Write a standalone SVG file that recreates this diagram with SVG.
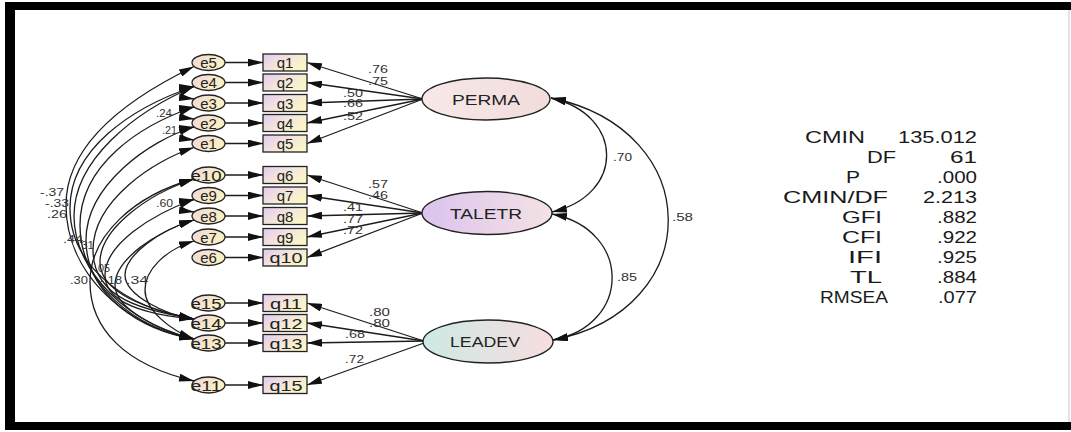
<svg xmlns="http://www.w3.org/2000/svg" width="1071" height="432" viewBox="0 0 1071 432">
  <defs>
    <linearGradient id="gBox" x1="0" y1="0" x2="1" y2="0.6">
      <stop offset="0" stop-color="#e2cbef"/>
      <stop offset="0.55" stop-color="#f3e6dc"/>
      <stop offset="1" stop-color="#fcf5c6"/>
    </linearGradient>
    <linearGradient id="gErr" x1="0" y1="0" x2="1" y2="0.4">
      <stop offset="0" stop-color="#eed8dc"/>
      <stop offset="1" stop-color="#faf1c2"/>
    </linearGradient>
    <linearGradient id="gPerma" x1="0" y1="0" x2="1" y2="0">
      <stop offset="0" stop-color="#f7e8e8"/>
      <stop offset="1" stop-color="#f2dcdc"/>
    </linearGradient>
    <linearGradient id="gTaletr" x1="0" y1="0" x2="1" y2="0">
      <stop offset="0" stop-color="#dbc3ee"/>
      <stop offset="1" stop-color="#f4e2e4"/>
    </linearGradient>
    <linearGradient id="gLeadev" x1="0" y1="0" x2="1" y2="0">
      <stop offset="0" stop-color="#cde9e4"/>
      <stop offset="1" stop-color="#f7dde0"/>
    </linearGradient>
    <marker id="ah" viewBox="0 0 16 8" refX="16" refY="4" markerWidth="15" markerHeight="8" markerUnits="userSpaceOnUse" orient="auto-start-reverse" preserveAspectRatio="none">
      <path d="M0,0 L16,4 L0,8 z" fill="#111"/>
    </marker>
    <style>
      .ln { fill: none; stroke: #1c1c1c; stroke-width: 1.3; }
      .one { marker-end: url(#ah); }
      .two { marker-start: url(#ah); marker-end: url(#ah); }
      .box { fill: url(#gBox); stroke: #222; stroke-width: 1.3; }
      .err { fill: url(#gErr); stroke: #222; stroke-width: 1.3; }
      .lat { stroke: #222; stroke-width: 1.4; }
      .t { font-family: "Liberation Sans", Arial, sans-serif; fill: #222; }
      .nm { font-size: 15px; text-anchor: middle; }
      .lv { font-size: 15px; text-anchor: middle; }
      .lb { font-size: 11.5px; fill: #333; }
      .st { font-size: 16px; fill: #1a1a1a; }
      .sv { font-size: 16px; fill: #1a1a1a; text-anchor: end; }
    </style>
  </defs>

  <rect width="1071" height="432" fill="#fff"/>
  <!-- picture frame -->
  <rect x="5" y="2" width="1066" height="8" fill="#000"/>
  <rect x="5" y="2" width="10" height="428" fill="#000"/>
  <rect x="5" y="422" width="1066" height="8" fill="#000"/>
  <line x1="1069" y1="10" x2="1069" y2="422" stroke="#c8c8c8" stroke-width="1"/>

  <!-- connectors -->
  <g id="connectors">
    <!-- error terms to indicators -->
    <path class="ln one" d="M225,62.5 L263,62.5"/>
    <path class="ln one" d="M225,82.5 L263,82.5"/>
    <path class="ln one" d="M225,103 L263,103"/>
    <path class="ln one" d="M225,123 L263,123"/>
    <path class="ln one" d="M225,143.5 L263,143.5"/>
    <path class="ln one" d="M225,175 L263,175"/>
    <path class="ln one" d="M225,195.5 L263,195.5"/>
    <path class="ln one" d="M225,216 L263,216"/>
    <path class="ln one" d="M225,237 L263,237"/>
    <path class="ln one" d="M225,257.5 L263,257.5"/>
    <path class="ln one" d="M225,303 L263,303"/>
    <path class="ln one" d="M225,323 L263,323"/>
    <path class="ln one" d="M225,343 L263,343"/>
    <path class="ln one" d="M225,385 L263,385"/>

    <!-- factor loadings -->
    <path class="ln one" d="M423,99 L307,62.5"/>
    <path class="ln one" d="M423,99 L307,82.5"/>
    <path class="ln one" d="M423,99 L307,103"/>
    <path class="ln one" d="M423,99 L307,123"/>
    <path class="ln one" d="M423,99 L307,143.5"/>
    <path class="ln one" d="M423,213 L307,175"/>
    <path class="ln one" d="M423,213 L307,195.5"/>
    <path class="ln one" d="M423,213 L307,216"/>
    <path class="ln one" d="M423,213 L307,237"/>
    <path class="ln one" d="M423,213 L307,257.5"/>
    <path class="ln one" d="M424,341 L307,303"/>
    <path class="ln one" d="M424,341 L307,323"/>
    <path class="ln one" d="M424,341 L307,343"/>
    <path class="ln one" d="M424,343 L307,385"/>

    <!-- factor covariances -->
    <path class="ln two" d="M551,98 C625,115 625,195 552,212"/>
    <path class="ln two" d="M551,98 C707,130 707,310 553,340"/>
    <path class="ln two" d="M552,214 C632,230 632,325 553,340"/>

    <!-- error covariances -->
    <path class="ln two" d="M194,66.5 C135,95 66,140 66,205 S120,325 194,339"/>
    <path class="ln two" d="M194,86.5 C130,108 70,150 70,208 S125,308 194,319"/>
    <path class="ln two" d="M194,86.5 C134,112 74,160 74,216 S130,325 194,339"/>
    <path class="ln two" d="M194,107 C140,125 80,165 80,225 S135,328 194,339"/>
    <path class="ln two" d="M194,127 C150,140 86,185 86,240 S140,330 194,339"/>
    <path class="ln two" d="M194,147.5 C155,160 93,200 93,250 S145,310 194,319"/>
    <path class="ln two" d="M194,179 C135,195 90,235 90,282 S125,365 194,381"/>
    <path class="ln two" d="M194,179 C145,195 100,230 100,262 S150,310 194,319"/>
    <path class="ln two" d="M194,199.5 C150,215 105,245 105,275 S150,315 194,319"/>
    <path class="ln two" d="M194,220 C155,232 115,260 115,285 S160,330 194,339"/>
    <path class="ln two" d="M194,220 C160,230 125,255 125,275 S165,315 194,319"/>
    <path class="ln two" d="M194,241 C165,250 145,270 145,290 S170,330 194,339"/>
    <path class="ln two" d="M194,86.5 C178,88 178,97 194,99"/>
    <path class="ln two" d="M194,107 C178,109 178,117 194,119"/>
    <path class="ln two" d="M194,127 C178,129 178,138 194,140"/>
    <path class="ln two" d="M194,199.5 C178,202 178,210 194,212"/>
  </g>

  <!-- path coefficients and covariance estimates -->
  <g id="estimates" class="t lb">
    <text x="368" y="73" textLength="20" lengthAdjust="spacingAndGlyphs">.76</text>
    <text x="368" y="85" textLength="20" lengthAdjust="spacingAndGlyphs">.75</text>
    <text x="343" y="96.5" textLength="20" lengthAdjust="spacingAndGlyphs">.50</text>
    <text x="343" y="107" textLength="20" lengthAdjust="spacingAndGlyphs">.66</text>
    <text x="343" y="120" textLength="20" lengthAdjust="spacingAndGlyphs">.52</text>
    <text x="368" y="188" textLength="20" lengthAdjust="spacingAndGlyphs">.57</text>
    <text x="368" y="199" textLength="20" lengthAdjust="spacingAndGlyphs">.46</text>
    <text x="343" y="210.5" textLength="20" lengthAdjust="spacingAndGlyphs">.41</text>
    <text x="343" y="223" textLength="20" lengthAdjust="spacingAndGlyphs">.77</text>
    <text x="343" y="234" textLength="20" lengthAdjust="spacingAndGlyphs">.72</text>
    <text x="369" y="315.5" textLength="21" lengthAdjust="spacingAndGlyphs">.80</text>
    <text x="369" y="326.5" textLength="21" lengthAdjust="spacingAndGlyphs">.80</text>
    <text x="345" y="338" textLength="20" lengthAdjust="spacingAndGlyphs">.68</text>
    <text x="345" y="363" textLength="19" lengthAdjust="spacingAndGlyphs">.72</text>
    <text x="613" y="161" textLength="19" lengthAdjust="spacingAndGlyphs">.70</text>
    <text x="672" y="221" textLength="21" lengthAdjust="spacingAndGlyphs">.58</text>
    <text x="617" y="281" textLength="20" lengthAdjust="spacingAndGlyphs">.85</text>
    <text x="40" y="196" textLength="24" lengthAdjust="spacingAndGlyphs">-.37</text>
    <text x="45" y="207" textLength="24" lengthAdjust="spacingAndGlyphs">-.33</text>
    <text x="47" y="218" textLength="20" lengthAdjust="spacingAndGlyphs">.26</text>
    <text x="63" y="243" textLength="20" lengthAdjust="spacingAndGlyphs">.44</text>
    <text x="78" y="249" textLength="16" lengthAdjust="spacingAndGlyphs">.31</text>
    <text x="95" y="272" textLength="15" lengthAdjust="spacingAndGlyphs">.05</text>
    <text x="70" y="284" textLength="18" lengthAdjust="spacingAndGlyphs">.30</text>
    <text x="100" y="284" textLength="22" lengthAdjust="spacingAndGlyphs">-.18</text>
    <text x="126" y="284" textLength="22" lengthAdjust="spacingAndGlyphs">.34</text>
    <text x="156" y="117" textLength="16" lengthAdjust="spacingAndGlyphs">.24</text>
    <text x="162" y="134" textLength="15" lengthAdjust="spacingAndGlyphs">.21</text>
    <text x="156" y="207" textLength="17" lengthAdjust="spacingAndGlyphs">.60</text>
  </g>

  <!-- latent variables -->
  <g id="PERMA">
    <ellipse class="lat" cx="486" cy="99" rx="64" ry="21" fill="url(#gPerma)"/>
    <text class="t lv" x="486" y="105" textLength="68" lengthAdjust="spacingAndGlyphs">PERMA</text>
  </g>
  <g id="TALETR">
    <ellipse class="lat" cx="487" cy="213" rx="65" ry="21.5" fill="url(#gTaletr)"/>
    <text class="t lv" x="486" y="219" textLength="72" lengthAdjust="spacingAndGlyphs">TALETR</text>
  </g>
  <g id="LEADEV">
    <ellipse class="lat" cx="488" cy="341.5" rx="65" ry="21.5" fill="url(#gLeadev)"/>
    <text class="t lv" x="485" y="347" textLength="70" lengthAdjust="spacingAndGlyphs">LEADEV</text>
  </g>

  <!-- indicators -->
  <g id="q1"><rect class="box" x="263" y="54" width="44" height="17"/><text class="t nm" x="285" y="68">q1</text></g>
  <g id="q2"><rect class="box" x="263" y="74" width="44" height="17"/><text class="t nm" x="285" y="88">q2</text></g>
  <g id="q3"><rect class="box" x="263" y="94.5" width="44" height="17"/><text class="t nm" x="285" y="108.5">q3</text></g>
  <g id="q4"><rect class="box" x="263" y="114.5" width="44" height="17"/><text class="t nm" x="285" y="128.5">q4</text></g>
  <g id="q5"><rect class="box" x="263" y="135" width="44" height="17"/><text class="t nm" x="285" y="149">q5</text></g>
  <g id="q6"><rect class="box" x="263" y="166.5" width="44" height="17"/><text class="t nm" x="285" y="180.5">q6</text></g>
  <g id="q7"><rect class="box" x="263" y="187" width="44" height="17"/><text class="t nm" x="285" y="201">q7</text></g>
  <g id="q8"><rect class="box" x="263" y="207.5" width="44" height="17"/><text class="t nm" x="285" y="221.5">q8</text></g>
  <g id="q9"><rect class="box" x="263" y="228.5" width="44" height="17"/><text class="t nm" x="285" y="242.5">q9</text></g>
  <g id="q10"><rect class="box" x="263" y="249" width="44" height="17"/><text class="t nm" x="286" y="263" textLength="33" lengthAdjust="spacingAndGlyphs">q10</text></g>
  <g id="q11"><rect class="box" x="263" y="294.5" width="44" height="17"/><text class="t nm" x="286" y="308.5" textLength="32" lengthAdjust="spacingAndGlyphs">q11</text></g>
  <g id="q12"><rect class="box" x="263" y="314.5" width="44" height="17"/><text class="t nm" x="286" y="328.5" textLength="33" lengthAdjust="spacingAndGlyphs">q12</text></g>
  <g id="q13"><rect class="box" x="263" y="334.5" width="44" height="17"/><text class="t nm" x="286" y="348.5" textLength="33" lengthAdjust="spacingAndGlyphs">q13</text></g>
  <g id="q15"><rect class="box" x="263" y="376.5" width="44" height="17"/><text class="t nm" x="286" y="390.5" textLength="33" lengthAdjust="spacingAndGlyphs">q15</text></g>

  <!-- error terms -->
  <g id="e5"><ellipse class="err" cx="208.5" cy="62.5" rx="16.5" ry="8"/><text class="t nm" x="208.5" y="68">e5</text></g>
  <g id="e4"><ellipse class="err" cx="208.5" cy="82.5" rx="16.5" ry="8"/><text class="t nm" x="208.5" y="88">e4</text></g>
  <g id="e3"><ellipse class="err" cx="208.5" cy="103" rx="16.5" ry="8"/><text class="t nm" x="208.5" y="108.5">e3</text></g>
  <g id="e2"><ellipse class="err" cx="208.5" cy="123" rx="16.5" ry="8"/><text class="t nm" x="208.5" y="128.5">e2</text></g>
  <g id="e1"><ellipse class="err" cx="208.5" cy="143.5" rx="16.5" ry="8"/><text class="t nm" x="208.5" y="149">e1</text></g>
  <g id="e10"><ellipse class="err" cx="208.5" cy="175" rx="16.5" ry="8"/><text class="t nm" x="206" y="180.5" textLength="31" lengthAdjust="spacingAndGlyphs">e10</text></g>
  <g id="e9"><ellipse class="err" cx="208.5" cy="195.5" rx="16.5" ry="8"/><text class="t nm" x="208.5" y="201">e9</text></g>
  <g id="e8"><ellipse class="err" cx="208.5" cy="216" rx="16.5" ry="8"/><text class="t nm" x="208.5" y="221.5">e8</text></g>
  <g id="e7"><ellipse class="err" cx="208.5" cy="237" rx="16.5" ry="8"/><text class="t nm" x="208.5" y="242.5">e7</text></g>
  <g id="e6"><ellipse class="err" cx="208.5" cy="257.5" rx="16.5" ry="8"/><text class="t nm" x="208.5" y="263">e6</text></g>
  <g id="e15"><ellipse class="err" cx="208.5" cy="303" rx="16.5" ry="8"/><text class="t nm" x="206" y="308.5" textLength="31" lengthAdjust="spacingAndGlyphs">e15</text></g>
  <g id="e14"><ellipse class="err" cx="208.5" cy="323" rx="16.5" ry="8"/><text class="t nm" x="206" y="328.5" textLength="31" lengthAdjust="spacingAndGlyphs">e14</text></g>
  <g id="e13"><ellipse class="err" cx="208.5" cy="343" rx="16.5" ry="8"/><text class="t nm" x="206" y="348.5" textLength="31" lengthAdjust="spacingAndGlyphs">e13</text></g>
  <g id="e11"><ellipse class="err" cx="208.5" cy="385" rx="16.5" ry="8"/><text class="t nm" x="206" y="390.5" textLength="31" lengthAdjust="spacingAndGlyphs">e11</text></g>

  <!-- model fit summary -->
  <g id="fit" class="t">
    <text class="st" x="805" y="143" textLength="60" lengthAdjust="spacingAndGlyphs">CMIN</text>
    <text class="sv" x="977" y="143" textLength="79" lengthAdjust="spacingAndGlyphs">135.012</text>
    <text class="st" x="867" y="163" textLength="29" lengthAdjust="spacingAndGlyphs">DF</text>
    <text class="sv" x="977" y="163" textLength="27" lengthAdjust="spacingAndGlyphs">61</text>
    <text class="st" x="846" y="183" textLength="14" lengthAdjust="spacingAndGlyphs">P</text>
    <text class="sv" x="977" y="183" textLength="40" lengthAdjust="spacingAndGlyphs">.000</text>
    <text class="st" x="783" y="203" textLength="105" lengthAdjust="spacingAndGlyphs">CMIN/DF</text>
    <text class="sv" x="977" y="203" textLength="54" lengthAdjust="spacingAndGlyphs">2.213</text>
    <text class="st" x="842" y="223" textLength="40" lengthAdjust="spacingAndGlyphs">GFI</text>
    <text class="sv" x="977" y="223" textLength="40" lengthAdjust="spacingAndGlyphs">.882</text>
    <text class="st" x="842" y="243" textLength="40" lengthAdjust="spacingAndGlyphs">CFI</text>
    <text class="sv" x="977" y="243" textLength="40" lengthAdjust="spacingAndGlyphs">.922</text>
    <text class="st" x="848" y="263" textLength="34" lengthAdjust="spacingAndGlyphs">IFI</text>
    <text class="sv" x="977" y="263" textLength="40" lengthAdjust="spacingAndGlyphs">.925</text>
    <text class="st" x="850" y="283" textLength="32" lengthAdjust="spacingAndGlyphs">TL</text>
    <text class="sv" x="977" y="283" textLength="40" lengthAdjust="spacingAndGlyphs">.884</text>
    <text class="st" x="820" y="303" textLength="68" lengthAdjust="spacingAndGlyphs">RMSEA</text>
    <text class="sv" x="977" y="303" textLength="39" lengthAdjust="spacingAndGlyphs">.077</text>
  </g>
</svg>
